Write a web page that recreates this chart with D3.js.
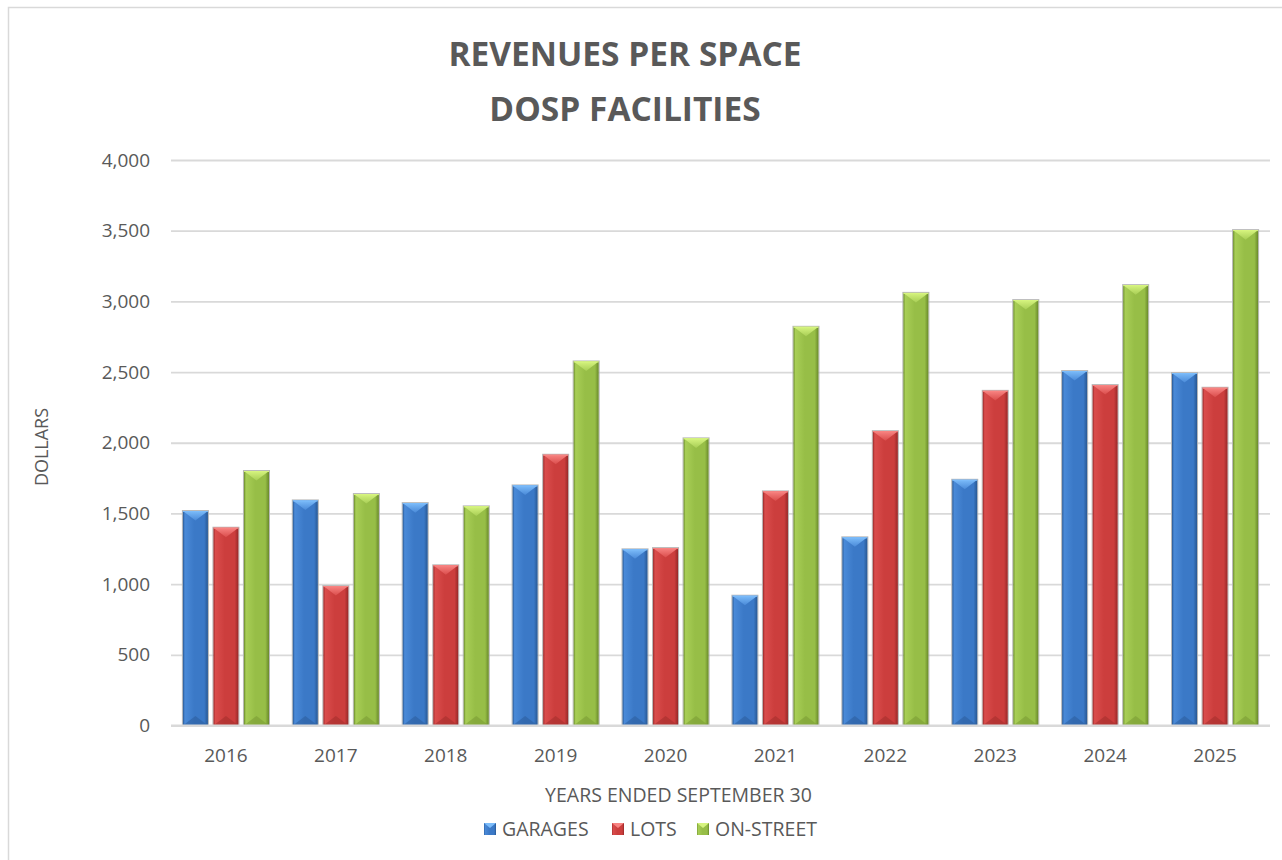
<!DOCTYPE html>
<html>
<head>
<meta charset="utf-8">
<script src="https://cdn.jsdelivr.net/npm/d3@7"></script>
<style>
  html, body { margin: 0; padding: 0; background: #fff; }
  svg { display: block; font-family: "Open Sans", "Liberation Sans", sans-serif; }
</style>
</head>
<body>
<svg id="chart" width="1282" height="860"></svg>
<script>
// Revenues per space by facility type, fiscal years ended September 30
const years = ["2016", "2017", "2018", "2019", "2020", "2021", "2022", "2023", "2024", "2025"];
const seriesNames = ["GARAGES", "LOTS", "ON-STREET"];
const garages  = [1517, 1592, 1573, 1698, 1246,  918, 1331, 1738, 2507, 2493];
const lots     = [1399,  986, 1133, 1915, 1255, 1656, 2082, 2367, 2408, 2389];
const onStreet = [1800, 1637, 1550, 2575, 2031, 2820, 3060, 3009, 3115, 3504];
const yTicks   = [0, 500, 1000, 1500, 2000, 2500, 3000, 3500, 4000];
const titleLines = ["REVENUES PER SPACE", "DOSP FACILITIES"];
const xTitle = "YEARS ENDED SEPTEMBER 30";
const yTitle = "DOLLARS";

const seriesValues = [garages, lots, onStreet];

// bevelled fill palette per series
const palette = [
  { light: "#4a8ad8", base: "#3b79c7", dark: "#285893", cap: "#7cbcfa", foot: "#2a5a97" },
  { light: "#da4d4c", base: "#cc3e3d", dark: "#972828", cap: "#f88482", foot: "#9e2b2a" },
  { light: "#a8ce56", base: "#97be47", dark: "#698a2a", cap: "#d6f47f", foot: "#769632" }
];

const textColor = "#595959";
const gridColor = "#d9d9d9";

const svg = d3.select("#chart");

// chart frame
svg.append("rect")
  .attr("x", 8.5).attr("y", 7.5)
  .attr("width", 1400).attr("height", 1000)
  .attr("fill", "#fff")
  .attr("stroke", gridColor).attr("stroke-width", 1.5);

const plot = { left: 171, right: 1270, top: 160, bottom: 725.5 };

const y = d3.scaleLinear().domain([0, 4000]).range([plot.bottom, plot.top]);
const x0 = d3.scaleBand().domain(years).range([plot.left, plot.right]).padding(0);
const x1 = d3.scaleBand().domain(seriesNames).range([0, x0.bandwidth()])
  .paddingInner(0.18).paddingOuter(0.39);

// gradients
const defs = svg.append("defs");
palette.forEach((p, i) => {
  const g = defs.append("linearGradient").attr("id", "bar-grad-" + i)
    .attr("x1", "0%").attr("x2", "100%").attr("y1", "0%").attr("y2", "0%");
  [[0, p.dark], [0.08, p.light], [0.45, p.base], [0.85, p.base], [1, p.dark]]
    .forEach(([o, c]) => g.append("stop").attr("offset", o).attr("stop-color", c));
  const cap = defs.append("linearGradient").attr("id", "cap-grad-" + i)
    .attr("x1", "0%").attr("x2", "0%").attr("y1", "0%").attr("y2", "100%");
  cap.append("stop").attr("offset", 0).attr("stop-color", p.cap);
  cap.append("stop").attr("offset", 1).attr("stop-color", p.light);
});

// title
const title = svg.append("text")
  .attr("text-anchor", "middle")
  .attr("fill", textColor)
  .attr("font-weight", 700)
  .attr("font-size", "33.5px");
title.append("tspan").attr("x", 625).attr("y", 66).text(titleLines[0]);
title.append("tspan").attr("x", 625).attr("y", 121).text(titleLines[1]);

// gridlines
const grid = svg.append("g")
  .attr("transform", `translate(${plot.left},0)`)
  .call(d3.axisLeft(y).tickValues(yTicks).tickSize(-(plot.right - plot.left)).tickFormat(""));
grid.select(".domain").remove();
grid.selectAll(".tick line").attr("stroke", gridColor).attr("stroke-width", 1.8);

// y axis labels
const yAxis = svg.append("g")
  .attr("transform", `translate(150,0)`)
  .call(d3.axisLeft(y).tickValues(yTicks).tickSize(0).tickPadding(0).tickFormat(d3.format(",")));
yAxis.select(".domain").remove();
yAxis.selectAll("text")
  .attr("fill", textColor)
  .attr("font-size", "19px")
  .attr("font-family", "'Open Sans', sans-serif");

// bars
const groups = svg.append("g").selectAll("g")
  .data(years)
  .join("g")
  .attr("transform", d => `translate(${x0(d)},0)`);

groups.each(function (year, yi) {
  const g = d3.select(this);
  seriesNames.forEach((s, si) => {
    const v = seriesValues[si][yi];
    const bx = x1(s), bw = x1.bandwidth();
    const top = y(v), base = y(0);
    const capH = bw * 0.38;
    const bar = g.append("g");
    // soft outline
    bar.append("rect")
      .attr("x", bx - 0.5).attr("y", top - 0.5)
      .attr("width", bw + 1).attr("height", base - top + 0.5)
      .attr("fill", "none")
      .attr("stroke", "#b8b8b8").attr("stroke-width", 1);
    bar.append("rect")
      .attr("x", bx).attr("y", top)
      .attr("width", bw).attr("height", base - top)
      .attr("fill", `url(#bar-grad-${si})`);
    // bottom bevel
    bar.append("path")
      .attr("d", `M${bx},${base} L${bx + bw / 2},${base - capH} L${bx + bw},${base} Z`)
      .attr("fill", palette[si].foot).attr("opacity", 0.5);
    // top bevel
    bar.append("path")
      .attr("d", `M${bx},${top} L${bx + bw},${top} L${bx + bw / 2},${top + capH} Z`)
      .attr("fill", `url(#cap-grad-${si})`);
    bar.append("line")
      .attr("x1", bx).attr("x2", bx + bw)
      .attr("y1", top + 0.5).attr("y2", top + 0.5)
      .attr("stroke", palette[si].cap).attr("stroke-width", 1);
  });
});

// x axis line
svg.append("line")
  .attr("x1", plot.left).attr("x2", plot.right)
  .attr("y1", y(0)).attr("y2", y(0))
  .attr("stroke", gridColor).attr("stroke-width", 2);

// x axis labels
const xAxis = svg.append("g")
  .attr("transform", `translate(0,${y(0)})`)
  .call(d3.axisBottom(x0).tickSize(0).tickPadding(0));
xAxis.select(".domain").remove();
xAxis.selectAll("text")
  .attr("dy", null)
  .attr("y", 36.5)
  .attr("fill", textColor)
  .attr("font-size", "19px")
  .attr("font-family", "'Open Sans', sans-serif");

// axis titles
svg.append("text")
  .attr("x", 678.5).attr("y", 802)
  .attr("text-anchor", "middle")
  .attr("fill", textColor)
  .attr("font-size", "19.5px")
  .text(xTitle);

svg.append("text")
  .attr("transform", "translate(48,447) rotate(-90)")
  .attr("text-anchor", "middle")
  .attr("fill", textColor)
  .attr("font-size", "18px")
  .text(yTitle);

// legend
const legendX = [484, 612, 697];
const legend = svg.append("g").selectAll("g")
  .data(seriesNames)
  .join("g")
  .attr("transform", (d, i) => `translate(${legendX[i]},823)`);
legend.append("rect")
  .attr("width", 12).attr("height", 12)
  .attr("fill", (d, i) => `url(#bar-grad-${i})`);
legend.append("path")
  .attr("d", "M0,0 L12,0 L6,5 Z")
  .attr("fill", (d, i) => palette[i].cap);
legend.append("text")
  .attr("x", 18).attr("y", 13)
  .attr("fill", textColor)
  .attr("font-size", "19.5px")
  .text(d => d);
</script>
</body>
</html>
